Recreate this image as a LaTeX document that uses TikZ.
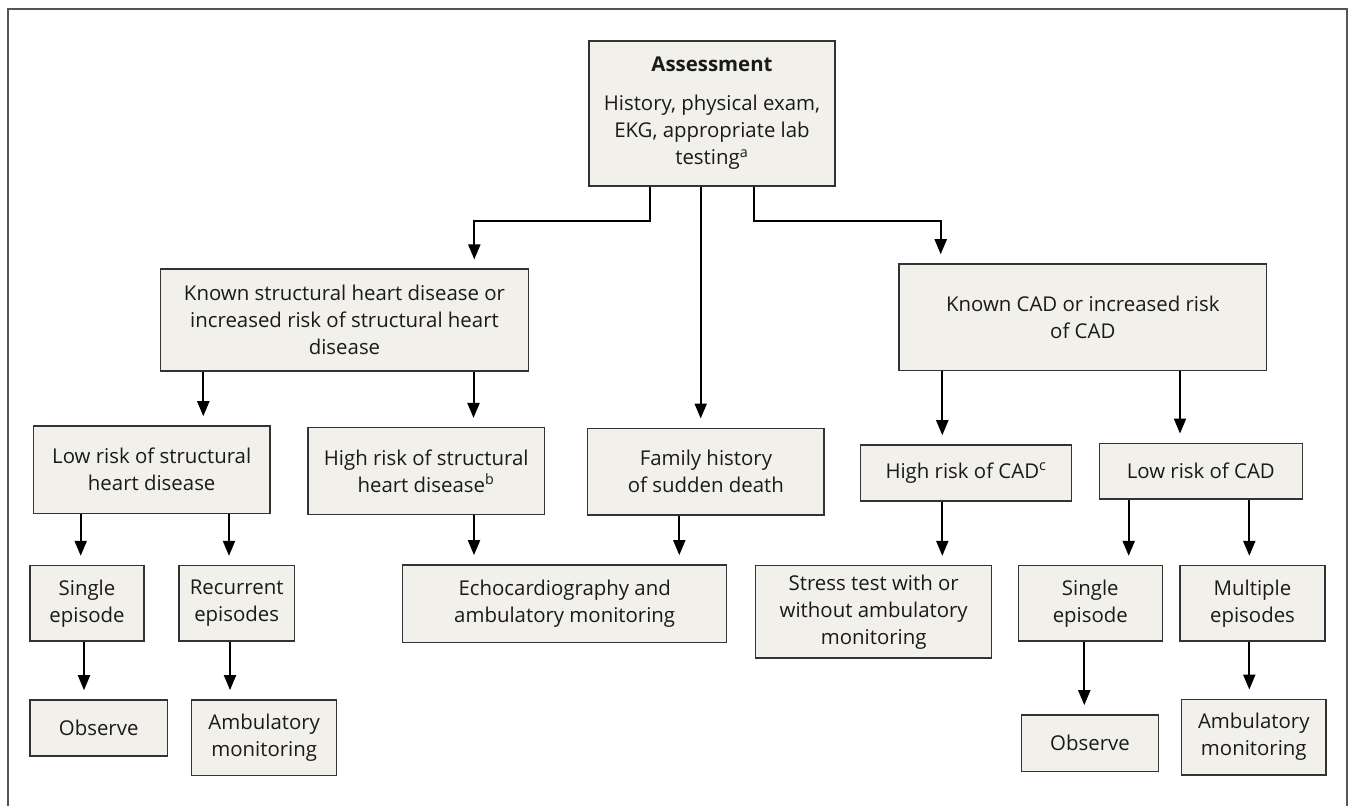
\documentclass[tikz,border=0pt]{standalone}
\usepackage{fontspec}
\setmainfont{Open Sans}
\usetikzlibrary{arrows.meta}
\definecolor{boxfill}{HTML}{F1F0EA}
\definecolor{boxline}{HTML}{333333}
\definecolor{framecol}{HTML}{555555}
\definecolor{txt}{HTML}{1A1A1A}
\begin{document}
\begin{tikzpicture}[x=0.5pt,y=-0.5pt,
  box/.style={draw=boxline, fill=boxfill, line width=0.75pt, align=center, inner sep=0pt, text=txt,
    font=\fontsize{10.2pt}{13.5pt}\selectfont},
  arr/.style={line width=1pt, -{Triangle[width=6pt,length=7.5pt]}, shorten >=4.5pt}]
\useasboundingbox (0,0) rectangle (1355,806);
\draw[framecol, line width=0.75pt] (8,806) -- (8,9) -- (1347,9) -- (1347,806);

\node[box, minimum width=123pt, minimum height=72.5pt] (assess) at (712,113.5)
  {\textbf{Assessment}\\[6pt]History, physical exam,\\EKG, appropriate lab\\testing\textsuperscript{a}};
\node[box, minimum width=183.8pt, minimum height=51pt] (struct) at (344.5,320.2)
  {Known structural heart disease or\\increased risk of structural heart\\disease};
\node[box, minimum width=183.9pt, minimum height=53.2pt] (cad) at (1082.8,317.2)
  {Known CAD or increased risk\\of CAD};
\node[box, minimum width=118.4pt, minimum height=43.7pt] (lowstruct) at (151.7,469.7)
  {Low risk of structural\\heart disease};
\node[box, minimum width=118.2pt, minimum height=43.3pt] (highstruct) at (426.2,471)
  {High risk of structural\\heart disease\textsuperscript{b}};
\node[box, minimum width=118.2pt, minimum height=43.4pt] (family) at (705.9,471.7)
  {Family history\\of sudden death};
\node[box, minimum width=105.5pt, minimum height=27.9pt] (highcad) at (966.2,472.9)
  {High risk of CAD\textsuperscript{c}};
\node[box, minimum width=101.5pt, minimum height=27.9pt] (lowcad) at (1200.8,471.2)
  {Low risk of CAD};
\node[box, minimum width=57pt, minimum height=37.7pt] (single1) at (87,603.3)
  {Single\\episode};
\node[box, minimum width=57.7pt, minimum height=37.7pt] (recurrent) at (236.7,603.3)
  {Recurrent\\episodes};
\node[box, minimum width=162pt, minimum height=38.9pt] (echo) at (564.7,603.8)
  {Echocardiography and\\ambulatory monitoring};
\node[box, minimum width=118pt, minimum height=46.2pt] (stress) at (873.7,611.8)
  {Stress test with or\\without ambulatory\\monitoring};
\node[box, minimum width=72pt, minimum height=37.7pt] (single2) at (1090.3,603.3)
  {Single\\episode};
\node[box, minimum width=72.5pt, minimum height=37.7pt] (multiple) at (1252.5,603.3)
  {Multiple\\episodes};
\node[box, minimum width=68.7pt, minimum height=28pt] (observe1) at (98.7,728)
  {Observe};
\node[box, minimum width=72.5pt, minimum height=37.9pt] (ambul1) at (264.2,737.8)
  {Ambulatory\\monitoring};
\node[box, minimum width=68.3pt, minimum height=28.4pt] (observe2) at (1090,743.3)
  {Observe};
\node[box, minimum width=72.2pt, minimum height=37.9pt] (ambul2) at (1253.8,737.2)
  {Ambulatory\\monitoring};

\coordinate (jl) at (474.3,220.7);
\coordinate (jr) at (940.7,220.7);
\draw[arr] (assess.south -| 650,0) |- (jl) -- (struct.north -| jl);
\draw[arr] (assess.south -| 700.7,0) -- (family.north -| 700.7,0);
\draw[arr] (assess.south -| 754,0) |- (jr) -- (cad.north -| jr);
\draw[arr] (struct.south -| 203.3,0) -- (lowstruct.north -| 203.3,0);
\draw[arr] (struct.south -| 473.5,0) -- (highstruct.north -| 473.5,0);
\draw[arr] (cad.south -| 942.3,0) -- (highcad.north -| 942.3,0);
\draw[arr] (cad.south -| 1180,0) -- (lowcad.north -| 1180,0);
\draw[arr] (lowstruct.south -| 80.7,0) -- (single1.north -| 80.7,0);
\draw[arr] (lowstruct.south -| 229,0) -- (recurrent.north -| 229,0);
\draw[arr] (highstruct.south -| 474,0) -- (echo.north -| 474,0);
\draw[arr] (family.south -| 679.3,0) -- (echo.north -| 679.3,0);
\draw[arr] (highcad.south -| 942.3,0) -- (stress.north -| 942.3,0);
\draw[arr] (lowcad.south -| 1128.7,0) -- (single2.north -| 1128.7,0);
\draw[arr] (lowcad.south -| 1249.3,0) -- (multiple.north -| 1249.3,0);
\draw[arr] (single1.south -| 84,0) -- (observe1.north -| 84,0);
\draw[arr] (recurrent.south -| 230,0) -- (ambul1.north -| 230,0);
\draw[arr] (single2.south -| 1084.3,0) -- (observe2.north -| 1084.3,0);
\draw[arr] (multiple.south -| 1249.3,0) -- (ambul2.north -| 1249.3,0);
\end{tikzpicture}
\end{document}
